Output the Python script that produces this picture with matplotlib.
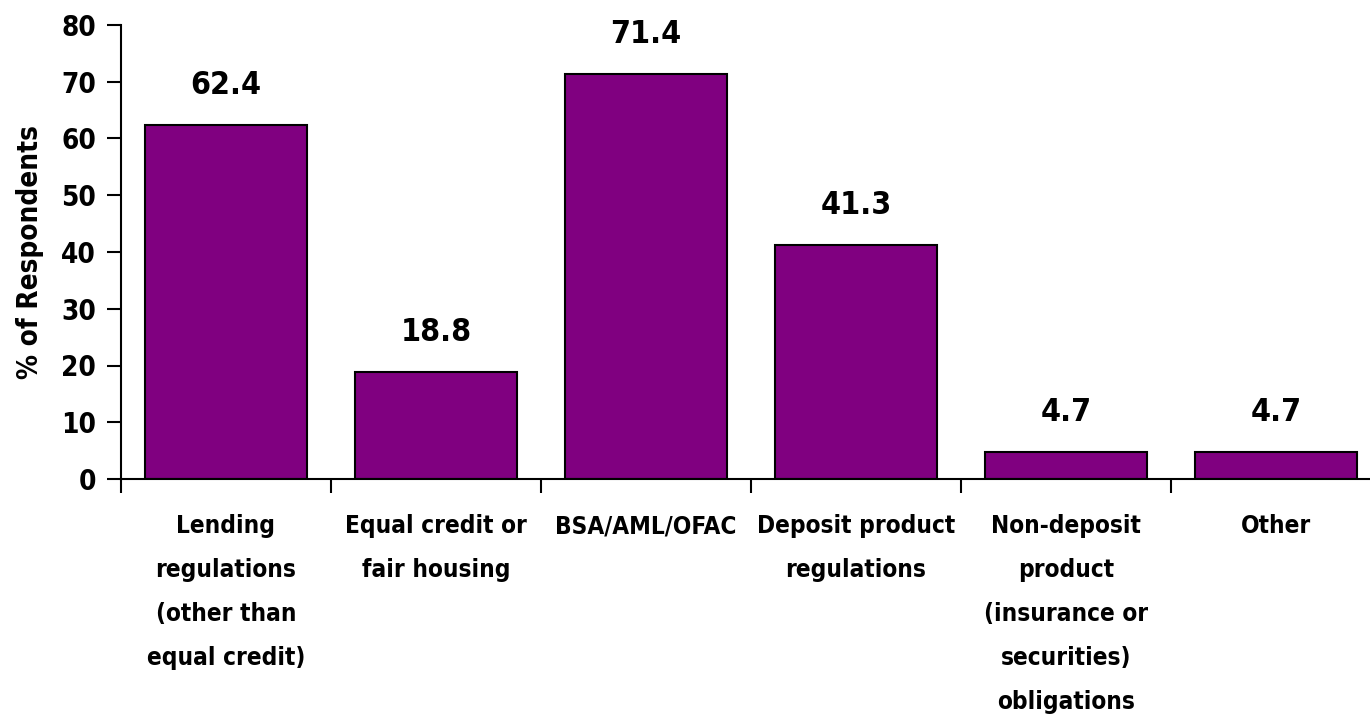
import matplotlib.pyplot as plt

categories = [
    "Lending\nregulations\n(other than\nequal credit)",
    "Equal credit or\nfair housing",
    "BSA/AML/OFAC",
    "Deposit product\nregulations",
    "Non-deposit\nproduct\n(insurance or\nsecurities)\nobligations",
    "Other",
]
values = [62.4, 18.8, 71.4, 41.3, 4.7, 4.7]
yticks = [0, 10, 20, 30, 40, 50, 60, 70, 80]

plt.rcParams["font.family"] = ["DejaVu Sans"]
plt.rcParams["font.stretch"] = "condensed"
plt.rcParams["font.weight"] = "bold"

fig = plt.figure(figsize=(13.7, 7.18), dpi=100)
ax = fig.add_axes([121 / 1370, (718 - 479) / 718, 1260 / 1370, 454 / 718])

x = range(len(categories))
ax.bar(x, values, width=0.775, color="#800080", edgecolor="black", linewidth=1.5)
for i, v in enumerate(values):
    ax.text(i, v + 4.2, f"{v:.1f}", ha="center", va="bottom", fontsize=23, fontweight="bold")

ax.set_xlim(-0.5, len(categories) - 0.5)
ax.set_ylim(0, 80)
ax.set_yticks(yticks)
ax.set_yticklabels([str(t) for t in yticks], fontsize=20, fontweight="bold")
ax.set_xticks([i - 0.5 for i in range(len(categories))])
ax.set_xticklabels([])
for i, c in enumerate(categories):
    ax.text(i, -6.2, c, ha="center", va="top", fontsize=17.5, fontweight="bold",
            linespacing=2.05)
ax.tick_params(axis="x", direction="out", length=10, width=1.5)
ax.tick_params(axis="y", direction="out", length=10, width=1.5, pad=8)
ax.spines["top"].set_visible(False)
ax.spines["right"].set_visible(False)
ax.spines["left"].set_linewidth(1.5)
ax.spines["bottom"].set_linewidth(1.5)
ax.set_ylabel("% of Respondents", fontsize=20, fontweight="bold", labelpad=12)

fig.savefig("out.png", dpi=100)
